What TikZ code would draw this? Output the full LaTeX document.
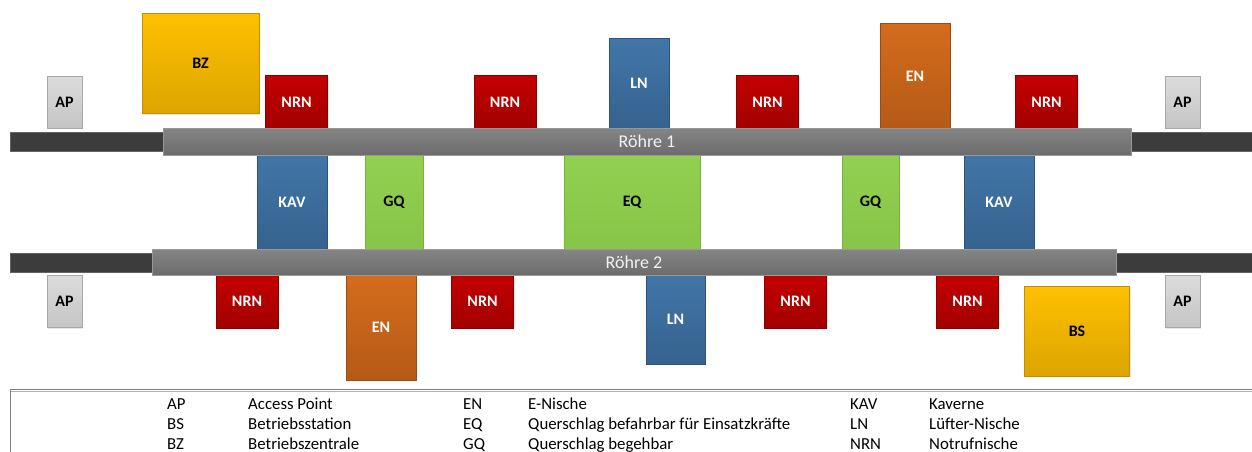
\documentclass[tikz,border=0pt]{standalone}
\usepackage{fontspec}
\setmainfont{Carlito}
\usetikzlibrary{shadows}
\definecolor{apTop}{HTML}{DCDCDC}
\definecolor{apBot}{HTML}{C4C4C4}
\definecolor{apLine}{HTML}{A8A8A8}
\definecolor{goldTop}{HTML}{FFC000}
\definecolor{goldBot}{HTML}{DCA500}
\definecolor{goldLine}{HTML}{C09000}
\definecolor{redTop}{HTML}{C40000}
\definecolor{redBot}{HTML}{A20000}
\definecolor{blueTop}{HTML}{4276A8}
\definecolor{blueBot}{HTML}{36628E}
\definecolor{orTop}{HTML}{D46C1C}
\definecolor{orBot}{HTML}{B55A17}
\definecolor{grTop}{HTML}{92D050}
\definecolor{grBot}{HTML}{86C548}
\definecolor{grLine}{HTML}{7AB040}
\definecolor{tubeTop}{HTML}{858585}
\definecolor{tubeBot}{HTML}{6C6C6C}
\definecolor{darkTube}{HTML}{3C3C3C}
\definecolor{frame}{HTML}{7F7F7F}
\tikzset{
  box/.style={rectangle, inner sep=0pt, font=\fontsize{16}{18}\selectfont\bfseries,
    drop shadow={shadow xshift=1pt, shadow yshift=-1pt, opacity=0.18}},
  apbox/.style={box, top color=apTop, bottom color=apBot, draw=apLine, line width=0.8pt, text=black},
  goldbox/.style={box, top color=goldTop, bottom color=goldBot, draw=goldLine, line width=0.6pt, text=black},
  redbox/.style={box, top color=redTop, bottom color=redBot, draw=redBot!85!black, line width=0.4pt, text=white},
  bluebox/.style={box, top color=blueTop, bottom color=blueBot, draw=blueBot!85!black, line width=0.4pt, text=white},
  orbox/.style={box, top color=orTop, bottom color=orBot, draw=orBot!85!black, line width=0.4pt, text=white},
  grbox/.style={box, top color=grTop, bottom color=grBot, draw=grLine, line width=0.5pt, text=black},
  tube/.style={rectangle, inner sep=0pt, top color=tubeTop, bottom color=tubeBot, draw=tubeBot!70!white, line width=0.5pt,
    text=white!90!gray, font=\fontsize{18}{20}\selectfont,
    drop shadow={shadow xshift=1pt, shadow yshift=-1pt, opacity=0.2}},
  dtube/.style={rectangle, inner sep=0pt, fill=darkTube, draw=darkTube!80!white, line width=0.5pt},
  abbr/.style={anchor=base west, inner sep=0pt, font=\fontsize{16.8}{18}\selectfont},
}
\begin{document}
\begin{tikzpicture}[x=1pt, y=-1pt]
\useasboundingbox (0,0) rectangle (1252,451);
\clip (0,0) rectangle (1252,451);
\fill[white] (0,0) rectangle (1252,451);

% ---- outer tube ends (dark) ----
\node[dtube, minimum width=155pt, minimum height=19pt] (d1l) at (87.5,141.5) {};
\node[dtube, minimum width=125pt, minimum height=19pt] (d1r) at (1192,141.5) {};
\node[dtube, minimum width=144pt, minimum height=19pt] (d2l) at (82,262.5) {};
\node[dtube, minimum width=140pt, minimum height=19pt] (d2r) at (1186,262.5) {};

% ---- installations above tube 1 ----
\node[apbox, minimum width=35pt, minimum height=52pt] (ap1) at (64.5,102) {AP};
\node[goldbox, minimum width=117pt, minimum height=100pt] (bz) at (200.5,63.5) {BZ};
\node[redbox, minimum width=62pt, minimum height=53pt] (n1) at (296.5,102) {NRN};
\node[redbox, minimum width=62pt, minimum height=53pt] (n2) at (505,102) {NRN};
\node[bluebox, minimum width=60pt, minimum height=90pt] (ln1) at (639,83.5) {LN};
\node[redbox, minimum width=62pt, minimum height=53pt] (n3) at (767.5,102) {NRN};
\node[orbox, minimum width=70pt, minimum height=105pt] (en1) at (915,76) {EN};
\node[redbox, minimum width=62pt, minimum height=53pt] (n4) at (1046.5,102) {NRN};
\node[apbox, minimum width=35pt, minimum height=52pt] (ap2) at (1182.5,102) {AP};

% ---- cross passages between the tubes ----
\node[bluebox, minimum width=70pt, minimum height=96pt] (kav1) at (292,202) {KAV};
\node[grbox, minimum width=58pt, minimum height=96pt] (gq1) at (394,202) {GQ};
\node[grbox, minimum width=136pt, minimum height=96pt] (eq) at (632,202) {EQ};
\node[grbox, minimum width=57pt, minimum height=96pt] (gq2) at (870.5,202) {GQ};
\node[bluebox, minimum width=70pt, minimum height=96pt] (kav2) at (999,202) {KAV};

% ---- installations below tube 2 ----
\node[apbox, minimum width=35pt, minimum height=52pt] (ap3) at (64.5,301.5) {AP};
\node[redbox, minimum width=62pt, minimum height=53pt] (n5) at (247,301.5) {NRN};
\node[orbox, minimum width=70pt, minimum height=105pt] (en2) at (381,327.5) {EN};
\node[redbox, minimum width=62pt, minimum height=53pt] (n6) at (482.5,301.5) {NRN};
\node[bluebox, minimum width=59pt, minimum height=89pt] (ln2) at (675.5,319.5) {LN};
\node[redbox, minimum width=62pt, minimum height=53pt] (n7) at (795.5,301.5) {NRN};
\node[redbox, minimum width=62pt, minimum height=53pt] (n8) at (967.5,301.5) {NRN};
\node[goldbox, minimum width=105pt, minimum height=90pt] (bs) at (1077,331) {BS};
\node[apbox, minimum width=35pt, minimum height=52pt] (ap4) at (1182.5,301.5) {AP};

% ---- the two tubes ----
\node[tube, minimum width=968pt, minimum height=27pt] (r1) at (647,141.5) {Röhre 1};
\node[tube, minimum width=964pt, minimum height=26pt] (r2) at (634,262) {Röhre 2};

% ---- legend ----
\draw[frame, line width=1pt] (10.5,470) -- (10.5,389.5) -- (1262,389.5);
\draw[frame!60!white, line width=0.6pt] (11,391.2) -- (1262,391.2);

\node[abbr] (l1a) at (167,409) {AP};
\node[abbr] (l1b) at (248,409) {Access Point};
\node[abbr] (l2a) at (167,429) {BS};
\node[abbr] (l2b) at (248,429) {Betriebsstation};
\node[abbr] (l3a) at (167,449) {BZ};
\node[abbr] (l3b) at (248,449) {Betriebszentrale};

\node[abbr] (l4a) at (463,409) {EN};
\node[abbr] (l4b) at (528,409) {E-Nische};
\node[abbr] (l5a) at (463,429) {EQ};
\node[abbr] (l5b) at (528,429) {Querschlag befahrbar für Einsatzkräfte};
\node[abbr] (l6a) at (463,449) {GQ};
\node[abbr] (l6b) at (528,449) {Querschlag begehbar};

\node[abbr] (l7a) at (850,409) {KAV};
\node[abbr] (l7b) at (929,409) {Kaverne};
\node[abbr] (l8a) at (850,429) {LN};
\node[abbr] (l8b) at (929,429) {Lüfter-Nische};
\node[abbr] (l9a) at (850,449) {NRN};
\node[abbr] (l9b) at (929,449) {Notrufnische};
\end{tikzpicture}
\end{document}
